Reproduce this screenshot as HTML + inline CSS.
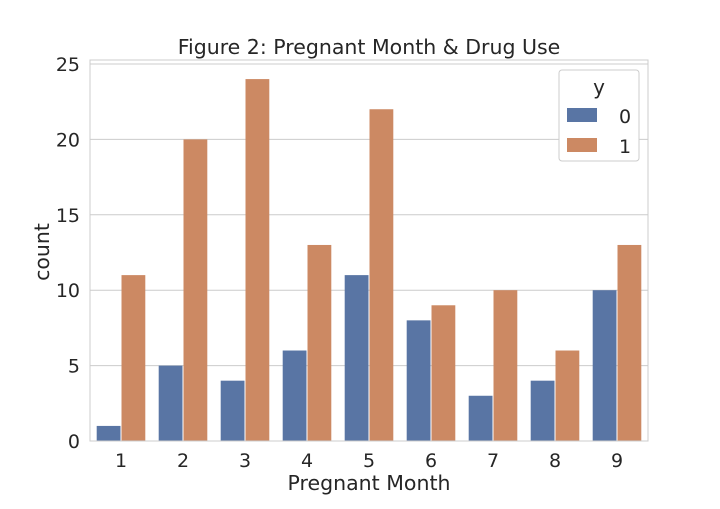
<!DOCTYPE html>
<html><head><meta charset="utf-8"><style>
body{margin:0;background:#fff;}
svg text{font-family:"DejaVu Sans","Liberation Sans",sans-serif;fill:#262626;}
</style></head><body>
<svg id="chart" width="720" height="504">
  <text x="369" y="54" font-size="20.5" text-anchor="middle">Figure 2: Pregnant Month &amp; Drug Use</text>
  <g id="grid"></g>
  <g id="bars"></g>
  <rect x="90" y="60" width="558" height="381" fill="none" stroke="#cccccc" stroke-width="1"/>
  <g id="xticks"></g>
  <g id="yticks"></g>
  <text x="369" y="490" font-size="20.5" text-anchor="middle">Pregnant Month</text>
  <text x="49" y="252" font-size="20.5" text-anchor="middle" transform="rotate(-90 49 252)">count</text>
  <g>
    <rect x="559" y="70" width="80" height="91" rx="3" fill="#fff" stroke="#cccccc"/>
    <text x="599" y="94" font-size="20" text-anchor="middle">y</text>
    <rect x="567" y="108" width="30" height="14" fill="#5975a4"/>
    <text x="619" y="123" font-size="19">0</text>
    <rect x="567" y="138" width="30" height="14" fill="#cc8963"/>
    <text x="619" y="153" font-size="19">1</text>
  </g>
</svg>
<script>
const categories = ["1","2","3","4","5","6","7","8","9"];
const series0 = [1,5,4,6,11,8,3,4,10];
const series1 = [11,20,24,13,22,9,10,6,13];
const yTicks = [0,5,10,15,20,25];
const NS="http://www.w3.org/2000/svg";
const L=90,R=648,Y0=441,YTOP=64;
const yS=v=>Y0-(Y0-YTOP)*v/25;
const band=(R-L)/categories.length;
const xC=i=>L+band*(i+0.5);
function mk(t,a,p){const e=document.createElementNS(NS,t);for(const k in a)e.setAttribute(k,a[k]);p.appendChild(e);return e;}
const grid=document.getElementById('grid'),yt=document.getElementById('yticks'),xt=document.getElementById('xticks'),bars=document.getElementById('bars');
yTicks.forEach(v=>{
  const l=mk('line',{x1:L,x2:R,y1:yS(v),y2:yS(v),stroke:'#cccccc'},grid);
  
  
  const t=mk('text',{x:80,y:yS(v)+7,'font-size':19,'text-anchor':'end'},yt);
  t.textContent=v;
  
  
});
const bw=band*0.4;
categories.forEach((c,i)=>{
  const t=mk('text',{x:xC(i),y:467,'font-size':19,'text-anchor':'middle'},xt);
  t.textContent=c;
  
  
  [[series0,'#5975a4',-1],[series1,'#cc8963',0]].forEach(([s,col,off],k)=>{
    const x=xC(i)+off*bw;
    const b=mk('rect',{x:x+0.5,y:yS(s[i]),width:bw-1,height:Y0-yS(s[i]),fill:col},bars);
    
    
  });
});
</script>
</body></html>
